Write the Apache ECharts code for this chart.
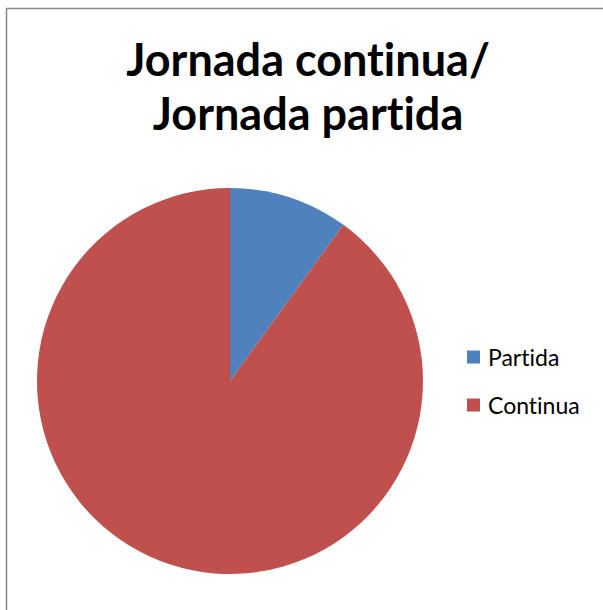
<!DOCTYPE html>
<html><head><meta charset="utf-8">
<script src="https://cdn.jsdelivr.net/npm/echarts@6/dist/echarts.min.js"></script>
<style>html,body{margin:0;padding:0;background:#fff}#c{width:603px;height:610px}
svg text{font-variant-ligatures:none !important;}</style>
</head><body><div id="c"></div>
<script>
const categories = ['Partida', 'Continua'];
const values = [10, 90];
const colors = ['#4F81BD', '#C0504D'];
const titleText = 'Jornada continua/\nJornada partida';

const chart = echarts.init(document.getElementById('c'), null, {renderer: 'svg'});
chart.setOption({
  animation: false,
  color: colors,
  graphic: [{
    type: 'rect', shape: {x: 6.5, y: 8.5, width: 700, height: 700},
    style: {fill: 'none', stroke: '#868686', lineWidth: 1.5}, silent: true
  }],
  title: {
    text: titleText, left: 308, textAlign: 'center', top: 32, padding: 0,
    textStyle: {fontFamily: 'Lato', fontWeight: 'bold', fontSize: 45, lineHeight: 54, color: '#000'}
  },
  legend: {
    orient: 'vertical', left: 462, top: 340,
    itemWidth: 13, itemHeight: 13, itemGap: 24, icon: 'rect',
    textStyle: {fontFamily: 'Lato', fontSize: 23, lineHeight: 24, color: '#000', padding: [0,0,0,3]},
    data: categories
  },
  series: [{
    type: 'pie', center: [230, 381], radius: 193, startAngle: 90, clockwise: true,
    label: {show: false}, labelLine: {show: false},
    itemStyle: {borderWidth: 0},
    emphasis: {disabled: true},
    data: categories.map((n, i) => ({name: n, value: values[i]}))
  }]
});
</script></body></html>
